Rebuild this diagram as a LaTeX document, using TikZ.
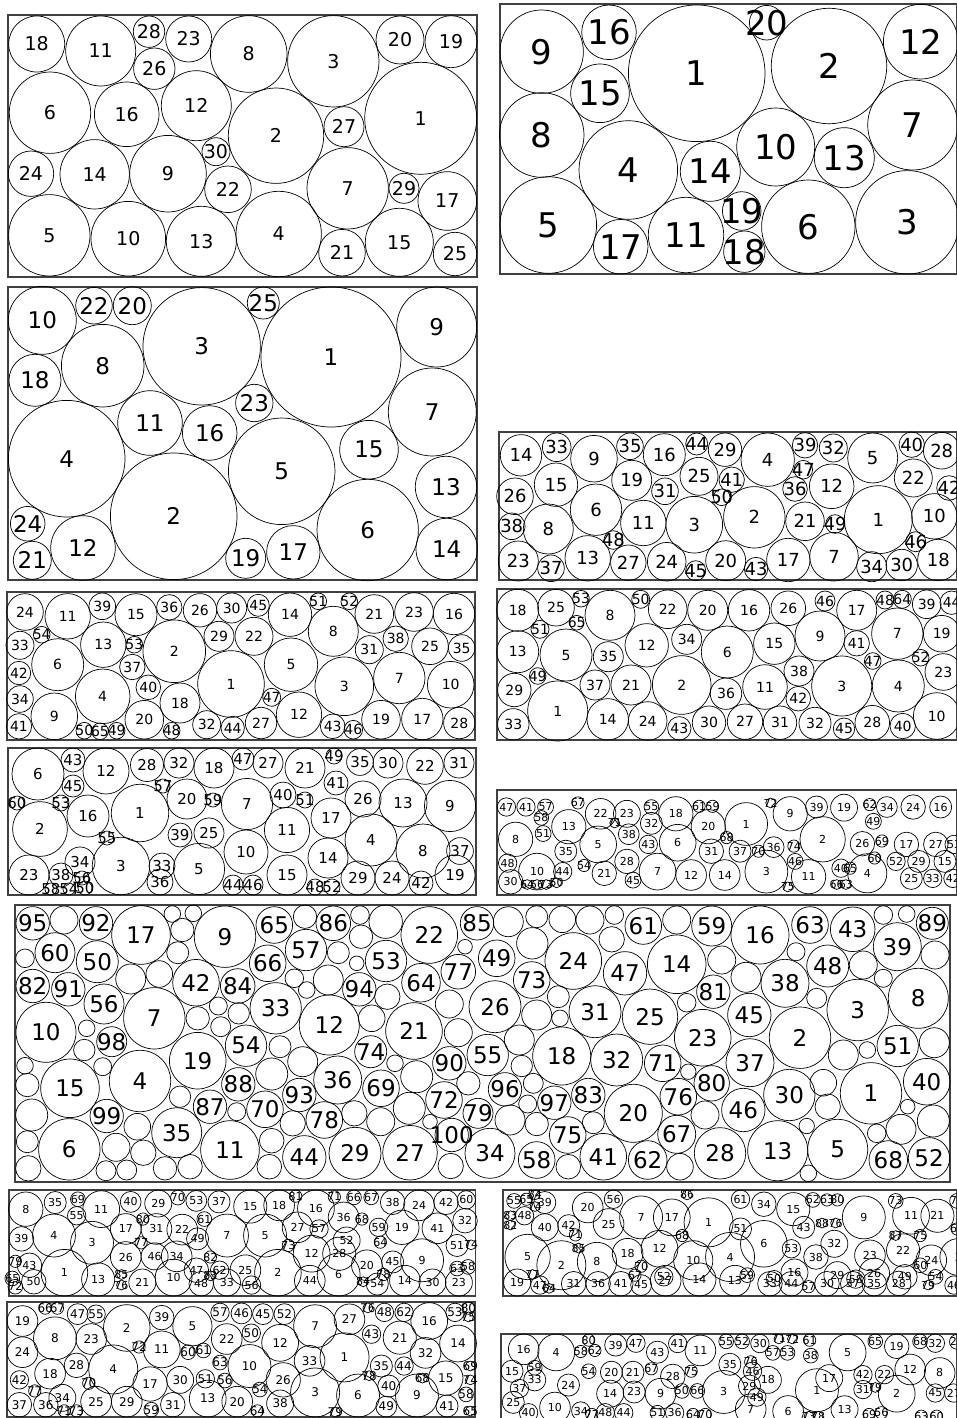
\documentclass[tikz,border=0pt]{standalone}
\usepackage{fontspec}
\setmainfont{DejaVu Sans}
\newcommand\fs[1]{\fontsize{#1}{#1}\selectfont}
\tikzset{
  bola/.style={draw=black, line width=0.7pt},
  marco/.style={draw=black!75, line width=1.2pt},
}
\begin{document}
\begin{tikzpicture}[x=1pt,y=-1pt]
\useasboundingbox (0,0) rectangle (957,1418);
\clip (0,0) rectangle (957,1418);

%Panel 1 arriba izquierda
\draw[marco] (8,15) rectangle (477,277);
\foreach \x/\y/\rad/\n in {36.7/44/28/18, 100.7/51/35/11, 149/31.7/15.7/28, 188.7/39/23/23,
  154.3/68.7/20.7/26, 248.7/54/38.3/8, 333.3/61.3/45.7/3, 400/40/24/20, 451/41.7/26/19,
  50/112.7/40.7/6, 126.7/114.3/32.3/16, 196.3/105.7/35/12, 276/135.7/47.7/2, 344/126.7/20/27,
  420.7/118.3/56/1, 216/151.7/14/30, 31/173.7/22.7/24, 94.7/174.3/34.7/14, 168/173.7/38.3/9,
  228/189.3/23.3/22, 347.7/188.3/40.7/7, 404/188.3/15/29, 447.3/201/29.3/17, 49.3/235.3/40.7/5,
  128.3/238.7/37.3/10, 201.3/241.3/35/13, 278.7/234/42.7/4, 342/252.7/23.3/21,
  399.3/242.3/34/15, 455/254/21.7/25}{
  \draw[bola] (\x,\y) circle[radius=\rad pt];
  \node[font=\fs{19}] (a\n) at (\x,\y) {\n};
}

%Panel 2 arriba derecha
\draw[marco] (500,4) rectangle (956.5,274);
\foreach \x/\y/\rad/\n in {541.7/51.7/41.7/9, 609/32.3/27.3/16, 600/93.3/29.3/15, 696.7/73.3/68.3/1,
  766.7/22.7/17.3/20, 829/66/57.7/2, 920.7/41.7/37.3/12, 541.7/135/42.3/8, 628.3/170/49.3/4,
  710.3/171.3/30/14, 775.7/147/39/10, 844.3/157.7/30/13, 912.7/125/45/7, 548.3/225/48.3/5,
  620.7/246.7/27.3/17, 686/235/37.7/11, 741.7/211/19.3/19, 744.3/251.7/20.7/18,
  808.3/226.7/46.7/6, 907.3/222.3/51.7/3}{
  \draw[bola] (\x,\y) circle[radius=\rad pt];
  \node[font=\fs{34}] (b\n) at (\x,\y) {\n};
}

%Panel 3
\draw[marco] (8,287) rectangle (477,580);
\foreach \x/\y/\rad/\n in {42.3/320.3/34/10, 94/305.7/18.3/22, 132.3/305.7/19/20, 201.7/346.3/58.7/3,
  263.3/303/16/25, 331/357/70/1, 436.7/327/40/9, 35/380.3/26/18, 102.7/365.7/41.3/8,
  254.3/403/18.7/23, 432.3/412/44/7, 150/423/32.3/11, 209.7/433/27.3/16, 66.7/458.7/58.3/4,
  281.7/471.3/53.3/5, 369/449.7/29.3/15, 446/487/30.7/13, 173.7/516.3/63.3/2, 27.7/523.7/17.3/24,
  83/548/32.3/12, 32.3/560.3/19/21, 245.7/558.3/20/19, 293.3/552.3/26.7/17, 367.7/530/50.7/6,
  446.7/549/30.7/14}{
  \draw[bola] (\x,\y) circle[radius=\rad pt];
  \node[font=\fs{23}] (c\n) at (\x,\y) {\n};
}

%Panel 4
\draw[marco] (499,432) rectangle (956.5,580);
\foreach \x/\y/\rad/\n in {521/455.3/20.7/14, 556.7/447.3/14.3/33, 594/458.7/23.3/9, 630/446.3/13.3/35,
  664.3/454.7/21/16, 696.7/444/11/44, 725/449.7/16.7/29, 767.7/459.7/26.7/4, 805/445.3/12.7/39,
  833.3/448/14/32, 872.7/458/25/5, 911.7/444.7/12.7/40, 941.7/450.7/18.3/28, 556/484.7/21.7/15,
  515/496.3/18.3/26, 631.7/480.3/20/19, 665/491.3/13.3/31, 699/476.3/19/25, 731.7/479.7/12.7/41,
  803.3/469.7/9.3/47, 831.7/486.3/22.3/12, 913.3/478/19/22, 949/488/12.3/42, 795/489/12.3/36,
  721.7/497.3/8.3/50, 596/509.7/25.7/6, 754.3/517.3/30.7/2, 878.3/519.7/34/1, 934.3/516.3/22.7/10,
  511.7/526.3/13.3/38, 548.3/529/25/8, 643.3/523/22.7/11, 694.3/524.7/28.3/3, 805/521.3/19.3/21,
  835/524/9.3/49, 613.3/540/9.3/48, 915.7/541.7/10/46, 518.3/561/20/23, 551/568.3/13.3/37,
  587.7/558.3/22.7/13, 628.3/562.7/17.7/27, 666.7/561.7/19.3/24, 695.7/570.7/10/45,
  725.7/560.7/20/20, 756/569/11.7/43, 788.3/560/21.7/17, 834/556.7/24.3/7, 871.7/566.7/15/34,
  901.7/565/15.7/30, 938.3/560/20.7/18}{
  \draw[bola] (\x,\y) circle[radius=\rad pt];
  \node[font=\fs{18}] (d\n) at (\x,\y) {\n};
}

%Panel 5
\draw[marco] (7,592) rectangle (475,740);
\foreach \x/\y/\rad/\n in {25/612/18.3/24, 67.7/616.3/22.7/11, 102.3/606.3/13.3/39, 136/614.7/21/15,
  169.3/607.3/12.7/36, 200/610.3/16.7/26, 231.7/608/15/30, 258.3/605.3/11/45, 290/614.7/21.7/14,
  318.3/601.3/8.3/51, 349.3/601.3/8.3/52, 333.3/631.3/25/8, 374.3/614/19.3/21, 414/612/19.3/23,
  454/614/20.7/16, 41.7/634.7/8.3/54, 20/645.3/14/33, 57.7/664.7/26/6, 103.3/644.7/22.7/13,
  134.3/644.7/8.3/53, 174.3/651.3/31.3/2, 219/636.3/15/29, 254/636.3/19/22, 291/664.7/26.7/5,
  369.3/649.7/14/31, 395.7/638.7/12.7/38, 430/646.3/18.3/25, 461.7/648/13.3/35, 19/673/11.7/42,
  132.3/667/12.7/37, 231/684/33.3/1, 344.3/686.3/29.3/3, 399.3/678/25.7/7, 450.7/684.7/23.3/10,
  20/699/13.3/34, 102.7/696.3/27.3/4, 148.3/687.3/12.3/40, 180/703/20/18, 271.7/697.3/9/47,
  54.3/716.3/23.3/9, 19/726.3/12.7/41, 84.3/730.7/8.3/50, 100/731.3/8.3/65, 116.7/730.7/8.3/49,
  144.3/719.7/19.3/20, 171.7/730.7/8.3/48, 206.7/724.7/14/32, 232.7/728/11.7/44, 261/723/15.7/27,
  299/714.7/22.7/12, 332.7/726.3/12.3/43, 353.3/729.7/9.3/46, 381/719.7/19.3/19,
  422.3/719/20.7/17, 459.3/723/15.7/28}{
  \draw[bola] (\x,\y) circle[radius=\rad pt];
  \node[font=\fs{14}] (e\n) at (\x,\y) {\n};
}

%Panel 6
\draw[marco] (497,589) rectangle (956.5,740);
\foreach \x/\y/\rad/\n in {517.7/610.3/21/18, 556/607.7/18.3/25, 581/598.7/8.3/53, 610/615.3/25/8,
  640.7/599.3/9/50, 667.7/609.3/19.3/22, 707.7/610.3/20/20, 749/610.3/20.7/16, 788.3/608.3/17.3/26,
  825/601/10/46, 856.7/610.3/20/17, 885/600/9/48, 902.3/599.3/9/64, 926.7/604.3/14.3/39,
  951.7/602.7/11.7/44, 576.7/622.7/7.3/65, 540/629.3/9/51, 517.7/651.7/21/13, 566/655/26/5,
  608.3/656.7/15/35, 646.7/645.3/21.7/12, 686.7/639.3/15/34, 727.3/652/26/6, 774.3/643.7/20.7/15,
  820/636/25/9, 856.7/643.3/12.7/41, 897.3/633.7/25.7/7, 941.7/633.7/18.3/19, 872.7/661/8.3/47,
  920.7/657.7/8.3/52, 943.3/672/18.3/23, 537.7/676/8.3/49, 799/671/15/38, 514.3/690/16.7/29,
  595/685/15/37, 631/685/20/21, 681.7/685/29.3/2, 726/693.7/15.7/36, 765/687/22.3/11,
  798.3/698.7/12.3/42, 841.7/686/30/3, 898.3/686/26/4, 557.7/711/30/1, 513.3/724.3/15.7/33,
  607.7/719.3/20.7/14, 647.7/721/19.3/24, 679.3/728.3/11.7/43, 709/722.7/16.7/30,
  745/721.7/17.7/27, 780/722.7/16.7/31, 815/723.3/16/32, 844/728.7/10.7/45, 872.3/722.7/17.3/28,
  902.7/726/12.7/40, 936.7/716/23.3/10}{
  \draw[bola] (\x,\y) circle[radius=\rad pt];
  \node[font=\fs{14}] (f\n) at (\x,\y) {\n};
}

%Panel 7
\draw[marco] (8,748) rectangle (476,895);
\foreach \x/\y/\rad/\n in {38/774/26/6, 73/760/12/43, 106/771/23/12, 147/765/16.5/28, 179/763/15/32,
  214/768/20/18, 243/759/11/47, 268/763/15/27, 305/768/20/21, 334/756/8/49, 360/762/13.4/35,
  388/763/15/30, 425/766/18.3/22, 459/763/15/31, 73/786/11/45, 163/786/7/57, 187/799/20/20,
  213/800/7/59, 247/804/25.6/7, 283/795/13/40, 305/800/8/51, 336/783/12/41, 363/799/18/26,
  403/803/24/13, 450/806/25.6/9, 17/803/7/60, 61/803/8/53, 88/816/21/16, 140/813/28.7/1,
  331/818/20/17, 40/829/27.4/2, 180/835/12/39, 209/833/15/25, 287/830/22.6/11, 371/840/26/4,
  423/851/27/8, 460/851/13.4/37, 107/838/7/55, 80/862/15/34, 162/866/13/33, 246/852/22/10,
  328/858/20/14, 121/866/28.7/3, 199/869/25.6/5, 61/875/12/38, 82/878/7/56, 29/875/20/23,
  160/882/13/36, 287/875/20/15, 233/885/10/44, 253/885/10/46, 315/887/8/48, 332/887/8/52,
  358/878/17/29, 392/878/17/24, 421/883/12/42, 455/875/20/19, 51/889/6/58, 69/889/6/54, 85/888/7/50}{
  \draw[bola] (\x,\y) circle[radius=\rad pt];
  \node[font=\fs{15}] (g\n) at (\x,\y) {\n};
}

%Panel 8
\draw[marco] (497,790) rectangle (956.5,895);
\foreach \zx/\zy/\zr/\n in {828/190/15/47, 860/190/15/41, 892/190/13/57, 945/178/10/67, 982/210/25/22,
  1025/210/22/23, 1065/190/12/55, 1105/210/28/18, 1143/188/10/61, 1165/188/10/59, 1220/240/35/1,
  1260/178/8/72, 1292/210/28/9, 1335/190/18/39, 1380/192/22/19, 1422/183/10/62, 1450/190/17/34,
  1493/190/20/24, 1538/190/18/16, 843/285/28/8, 885/222/12/58, 930/248/28/13, 888/268/13/51,
  978/300/30/5, 1005/237/8/71, 1065/238/18/32, 1028/270/17/38, 1158/248/28/20, 1428/232/13/49,
  1060/300/15/43, 1108/295/30/6, 1188/280/10/68, 1163/320/20/31, 1210/320/18/37, 1240/320/10/70,
  1265/308/17/36, 1298/305/10/74, 1345/285/37/2, 1410/298/20/26, 1442/290/10/69, 1482/300/20/17,
  1530/300/20/27, 1560/300/15/53, 1430/340/10/60, 1390/370/10/65, 830/355/15/48, 878/380/30/10,
  925/320/18/35, 955/362/10/54, 920/380/15/44, 1025/350/20/28, 1300/350/13/46, 1375/370/15/40,
  1465/350/15/52, 1502/350/18/29, 1545/350/18/15, 988/385/20/21, 1035/405/13/45, 1075/380/30/7,
  1130/390/25/12, 1185/390/25/14, 1253/380/35/3, 1288/425/8/75, 1322/395/28/11, 1368/418/8/66,
  1383/418/8/63, 1418/385/32/4, 1490/400/18/25, 1525/400/15/33, 1558/400/15/42, 835/410/20/30,
  862/418/8/64, 878/418/8/56, 893/418/8/73, 910/413/8/50}{
  \pgfmathsetmacro\rr{\zr/1.635}
  \pgfmathsetmacro\px{\zx/1.635}
  \pgfmathsetmacro\py{min(max(790+(\zy-140)*0.34,790+\rr),895-\rr)}
  \draw[bola] (\px,\py) circle[radius=\rr pt];
  \node[font=\fs{11}] (h\n) at (\px,\py) {\n};
}

%Panel 9 grande
\draw[marco] (15,905) rectangle (950,1182);
\foreach \x/\y/\rad in {64/920/14, 172.3/914/8.3, 193.3/913.3/8.3, 182.3/930/11.7, 305/916.7/11.7,
  360/915/9.3, 385.7/921.7/16.7, 25/958.3/9.3, 177.7/952.7/11, 338.3/952.7/11, 361/936.7/11.7,
  356.7/963.3/7.3, 465/946.7/7.3, 130.7/979/15, 159.3/974/13.3, 294.3/978.3/9.3, 328.3/980/15,
  306.7/990/8.3, 387.3/996.7/12.7, 218.3/1006/9, 449.3/1004/14, 86.7/1028.3/8.3, 197.7/1018.3/11.7,
  238.7/1013.3/10.7, 220.7/1026.7/10, 371.7/1018.3/13.3, 458.3/1032.7/14, 280/1046.7/11,
  84.3/1050/10.7, 25/1065.7/8.3, 302.7/1061.7/15, 395/1063.3/8.3, 102.7/1066.7/9, 271.7/1074/16,
  416.7/1076.7/16, 27.3/1085/11.7, 180/1096.7/10.7, 468.3/1083.3/11.7, 236.7/1111.7/9,
  31.7/1115/16, 137.3/1126.7/13.3, 354.3/1113.3/12.7, 380.7/1121.7/14, 409.3/1108.3/16,
  430/1121.7/7.3, 292.7/1123.3/12.7, 27.3/1141.7/11, 116/1147.3/14, 143.3/1152.7/12.7,
  271.7/1140.7/12.3, 28.3/1168.3/12.7, 106/1170.7/10, 126.7/1170/10, 165/1168.3/11.7,
  190/1166.7/12.3, 269.3/1166.7/12.3, 450.7/1166/12.7, 508.3/921.7/15, 536.7/916.7/11,
  562.3/919.3/13.3, 590/920/14, 614.3/915/9.3, 676.7/920/14, 883.3/915/9.3, 906.7/914/8.3,
  532.3/943.3/15.7, 611.7/939.3/12.7, 721.7/960/14, 796/951.7/9, 863.3/965/14, 935/955/14,
  746/977.3/15, 883.3/978.3/9, 558.3/996.7/11, 536.7/1015/15, 560/1018.3/8.3, 686.7/1002.7/9.3,
  816.7/998.3/10, 519.3/1040/15, 843.3/1055/15, 867.3/1050/8.3, 934.3/1042.7/15, 521.7/1066/10.7,
  688.3/1071.7/7.7, 533.3/1083.3/10, 823.3/1082.7/13.3, 527.7/1104/9, 827.7/1106.7/12.7,
  907.7/1106.7/7.3, 510/1120/15, 705/1115/14, 536.7/1124/11.7, 593.3/1122.7/11, 806.7/1126/7.7,
  876.7/1133.3/9.3, 901/1129.3/15, 933.3/1121/16, 568.3/1166.7/12.3, 680/1166.7/13.3,
  808.3/1173.3/8.3}{
  \draw[bola] (\x,\y) circle[radius=\rad pt];
}
\foreach \x/\y/\rad/\n in {32.7/923.3/16.7/95, 96/923.3/16.7/92, 141/935/29.3/17, 225/936.7/30.7/9,
  274.3/925/18.3/65, 333.3/923.3/17.3/86, 429.3/935/28.3/22, 477/923.3/16.7/85, 55/952.7/20/60,
  97.3/961.7/21/50, 306/950/20.7/57, 267.7/963.3/18.3/66, 386/961/20.7/53, 32.7/986/16.7/82,
  68.3/989.3/16.7/91, 196/982.7/23.3/42, 237.7/986/17.3/84, 359.3/989.3/16.7/94, 421/982.7/19.3/64,
  458.3/971.7/17.3/77, 104/1004/20/56, 275.7/1008.3/25.7/33, 154.3/1018.3/30.7/7, 46/1032.3/30/10,
  329.3/1025/30/12, 414/1031/28.3/21, 111.7/1041.7/15/98, 246/1045.7/20.7/54, 370.7/1051.7/16/74,
  197.7/1060.7/28.3/19, 449.3/1063.3/16.7/90, 140/1081/30.7/4, 337.7/1080/24/36,
  238.3/1084.3/16.7/88, 381/1088.3/18.3/69, 70/1088.3/29.3/15, 299.3/1095/16.7/93,
  444/1100/18.3/72, 210/1106.7/16.7/87, 265/1109.3/18.3/70, 106.7/1116/16.7/99,
  324.3/1120/18.3/78, 176.7/1132.7/25/35, 451.7/1135/16.7/100, 69.3/1149.3/30.7/6,
  230/1150/29.3/11, 304.3/1157.3/21.7/44, 355/1153.3/26/29, 410/1152.7/27.3/27,
  496.7/958.3/18.3/49, 643.3/926/18.3/61, 711.7/926/20/59, 760/935/29/16, 810/925/18.3/63,
  852.7/929.3/22.3/43, 932.3/923.3/16/89, 573.3/961/28.3/24, 625/973.3/21.7/47, 676.7/964.3/29.3/14,
  827.7/966/21/48, 897.3/946.7/24/39, 531.7/980/18.3/73, 785/983.3/24/38, 713.3/991.7/16.7/81,
  495/1006.7/26/26, 595/1011.7/26/31, 650/1016.7/27.7/25, 857.7/1010/30.7/3, 918.3/998.3/30/8,
  749.3/1015/21.7/45, 702.7/1037.7/28.3/23, 800/1037.7/30.7/2, 561.7/1056/29/18,
  616.7/1060/26/32, 662.7/1063.3/18.3/71, 897.7/1046/20.7/51, 487.7/1055/20.7/55,
  750/1062.7/24/37, 711.7/1083.3/17.7/80, 505/1089.3/16.7/96, 871/1093.3/30.7/1,
  926.7/1081.7/23.3/40, 789.3/1095/25.7/30, 588.3/1095/16.7/83, 554.3/1102.7/16.7/97,
  678.3/1096.7/18.3/76, 633.3/1113.3/29/20, 743.3/1110/21.7/46, 478/1113.3/15/79,
  567.7/1135/18.3/75, 676.7/1134.3/19/67, 490/1153.3/25/34, 536.7/1160/18.3/58,
  603.3/1156.7/23.3/41, 647.7/1160/19.3/62, 720/1153.3/25.7/28, 777.7/1150.7/30/13,
  837.7/1149.3/30/5, 888.3/1160/19.3/68, 929/1158.3/20.7/52}{
  \draw[bola] (\x,\y) circle[radius=\rad pt];
  \node[font=\fs{23}] (i\n) at (\x,\y) {\n};
}

%Panel 10
\draw[marco] (9,1190) rectangle (475.5,1296);
\foreach \zx/\zy/\zr/\n in {42/70/28/8, 90/50/18/35, 127/40/12/69, 125/90/15/55, 165/70/30/11,
  213/48/17/40, 258/50/22/29, 290/35/12/70, 320/45/17/53, 357/48/18/37, 408/55/27/15, 455/55/25/18,
  482/25/10/81, 515/55/30/16, 545/33/10/71, 577/33/12/66, 605/33/12/67, 640/48/20/38, 683/55/25/24,
  727/48/20/42, 760/42/15/60, 88/150/35/4, 35/160/20/39, 150/172/35/3, 205/130/25/17, 233/100/10/80,
  255/130/25/31, 297/132/25/22, 333/100/12/61, 560/95/25/36, 590/100/10/68, 617/125/15/59,
  485/125/25/27, 520/130/15/57, 565/165/22/52, 655/125/28/19, 713/128/25/41, 758/105/20/32,
  370/150/35/7, 432/150/35/5, 322/160/18/49, 745/180/18/51, 768/178/8/74, 553/205/27/28,
  620/170/10/64, 288/213/25/34, 230/172/10/77, 205/215/25/26, 252/213/22/46, 470/180/10/73,
  508/205/30/12, 598/240/25/20, 640/230/18/45, 688/225/35/9, 25/228/10/79, 48/240/20/43,
  320/255/20/47, 343/215/10/82, 358/255/15/62, 400/255/25/25, 745/250/12/63, 763/245/12/58,
  625/268/10/78, 592/290/8/84, 20/280/12/65, 25/305/12/72, 55/290/20/50, 105/290/38/1,
  160/290/27/13, 198/268/8/85, 198/300/8/76, 232/295/22/21, 283/280/30/10, 328/300/20/48,
  370/295/22/33, 410/300/15/56, 453/285/38/2, 505/295/25/44, 552/290/35/6, 615/297/18/54,
  660/290/25/14, 705/295/22/30, 748/295/22/23, 343/272/8/83}{
  \pgfmathsetmacro\rr{\zr/1.63}
  \pgfmathsetmacro\px{\zx/1.63}
  \pgfmathsetmacro\py{min(max(1190+(\zy-12)*0.33,1190+\rr),1296-\rr)}
  \draw[bola] (\px,\py) circle[radius=\rr pt];
  \node[font=\fs{11}] (j\n) at (\px,\py) {\n};
}

%Panel 11
\draw[marco] (503,1190) rectangle (956.5,1296);
\foreach \zx/\zy/\zr/\n in {838/45/12/55, 858/40/10/65, 872/25/8/84, 872/62/8/74, 888/50/18/39,
  958/65/25/20, 1000/40/15/56, 832/90/8/83, 855/90/15/48, 832/118/8/82, 888/125/22/40, 927/120/18/42,
  938/148/10/71, 992/115/25/25, 1045/95/35/7, 1095/95/30/17, 1120/25/8/86, 1155/110/40/1,
  1207/40/15/61, 1245/55/20/34, 1293/70/27/15, 1325/42/12/62, 1348/42/10/63, 1365/42/10/80,
  1408/95/35/9, 1460/45/12/73, 1485/90/30/11, 1528/90/27/21, 1560/45/12/72, 1207/130/18/51,
  1310/125/18/43, 1340/112/8/88, 1362/112/8/76, 1023/205/25/18, 1075/190/30/12, 1112/150/10/68,
  1245/175/38/6, 1290/190/15/53, 1360/175/22/32, 1418/210/25/23, 1472/195/27/22, 1500/150/10/75,
  1460/150/8/87, 1518/225/25/24, 1562/215/30/3, 1560/130/10/69, 860/215/37/5, 915/240/40/2,
  973/230/32/8, 943/188/8/85, 1130/225/32/10, 1190/215/40/4, 1330/215/20/38, 1295/262/22/16,
  1262/280/13/50, 1045/243/10/70, 1082/275/15/52, 1035/270/10/67, 1218/270/12/59, 1365/270/22/29,
  1395/282/15/58, 1425/265/25/26, 1475/275/20/49, 1500/240/12/60, 1525/275/12/54, 1555/300/15/46,
  1513/300/8/79, 843/295/22/19, 868/268/8/77, 880/300/15/47, 895/310/8/64, 935/300/20/31,
  975/300/20/36, 1012/300/20/41, 1045/300/17/45, 1085/295/25/27, 1140/290/27/14, 1198/290/25/13,
  1255/300/20/33, 1290/300/20/44, 1318/305/10/57, 1348/300/20/30, 1390/300/20/37, 1425/300/20/35,
  1465/295/20/28}{
  \pgfmathsetmacro\rr{\zr/1.63}
  \pgfmathsetmacro\px{\zx/1.63}
  \pgfmathsetmacro\py{min(max(1190+(\zy-12)*0.33,1190+\rr),1296-\rr)}
  \draw[bola] (\px,\py) circle[radius=\rr pt];
  \node[font=\fs{11}] (k\n) at (\px,\py) {\n};
}

%Panel 12
\draw[marco] (7,1302) rectangle (475,1417);
\foreach \zx/\zy/\zr/\n in {35/70/25/19, 72/32/10/66, 92/32/10/67, 125/50/17/47, 155/50/15/55,
  205/90/38/2, 262/60/20/39, 312/85/32/5, 357/45/15/57, 392/48/17/46, 427/50/17/45, 462/50/17/52,
  512/85/35/7, 568/65/25/27, 598/32/8/76, 625/45/15/48, 657/45/15/62, 698/70/30/16, 740/45/15/53,
  762/30/10/80, 762/58/8/75, 88/120/35/8, 147/122/25/23, 35/160/25/24, 225/145/10/72, 262/152/30/11,
  305/160/12/60, 330/155/12/61, 368/122/25/22, 408/105/15/50, 455/133/30/12, 604/108/15/43,
  650/118/27/21, 503/185/25/33, 560/175/40/1, 692/162/25/32, 745/135/30/14, 80/222/25/18,
  123/198/20/28, 183/210/40/4, 405/200/35/10, 357/190/12/63, 620/200/18/35, 657/200/15/44,
  765/200/8/69, 30/240/15/42, 243/252/28/17, 292/240/22/30, 333/237/15/51, 365/242/12/56,
  460/240/28/26, 143/250/10/70, 600/228/8/78, 687/235/8/68, 632/258/18/40, 725/235/28/15,
  765/240/8/74, 55/272/10/77, 100/292/22/34, 422/268/12/54, 30/320/20/37, 73/320/20/36,
  103/340/10/71, 123/340/10/73, 155/318/25/25, 205/315/25/29, 245/330/12/59, 280/318/20/31,
  337/312/30/13, 385/318/25/20, 418/330/10/64, 455/318/22/38, 512/285/40/3, 545/340/8/79,
  582/292/35/6, 628/322/17/49, 678/300/35/9, 758/282/12/58, 727/320/18/41, 765/330/8/65}{
  \pgfmathsetmacro\rr{\zr/1.63}
  \pgfmathsetmacro\px{\zx/1.63+1}
  \pgfmathsetmacro\py{min(max(1302+(\zy-15)*0.346,1302+\rr),1417-\rr)}
  \draw[bola] (\px,\py) circle[radius=\rr pt];
  \node[font=\fs{12}] (l\n) at (\px,\py) {\n};
}

%Panel 13
\draw[marco] (501,1334) rectangle (956.5,1432);
\foreach \zx/\zy/\zr/\n in {852/145/25/16, 905/150/30/4, 958/120/10/80, 945/158/10/58, 968/155/10/62,
  1002/138/18/39, 1035/132/15/47, 1070/160/18/43, 1103/135/15/41, 1140/155/25/11, 1182/128/12/55,
  1208/128/12/52, 1237/135/15/30, 1258/162/12/57, 1282/162/12/53, 1268/118/8/71, 1290/118/8/72,
  1318/118/10/61, 1320/170/12/38, 1380/155/30/5, 1425/125/12/65, 1460/135/20/19, 1498/125/12/68,
  1523/130/15/32, 1558/130/12/26, 833/215/18/15, 870/205/12/59, 870/240/18/33, 958/215/12/54,
  995/218/18/20, 1030/218/18/21, 1060/208/10/67, 1095/230/20/28, 1125/215/10/75, 1188/195/18/35,
  1222/188/10/76, 1225/215/15/46, 1250/240/22/18, 1405/225/15/42, 1440/225/15/22, 1482/210/25/12,
  1530/220/25/8, 1350/235/22/17, 925/255/18/24, 845/265/15/37, 993/280/22/14, 1032/275/18/23,
  1075/280/25/9, 1110/272/12/50, 1135/272/12/66, 1178/275/35/3, 1220/258/18/29, 1232/290/15/49,
  1330/270/35/1, 1405/268/15/31, 1425/262/8/79, 1460/280/30/2, 1523/278/15/45, 1553/278/15/27,
  835/305/18/25, 860/335/15/40, 903/320/25/10, 945/330/15/34, 963/340/10/77, 985/335/15/48,
  1015/335/15/44, 1070/335/12/51, 1098/335/15/36, 1128/340/10/64, 1148/340/10/70, 1222/325/25/7,
  1283/330/25/6, 1317/345/8/73, 1332/345/8/78, 1375/325/22/13, 1415/340/10/69, 1435/335/10/56,
  1500/345/10/63, 1525/345/10/60}{
  \pgfmathsetmacro\rr{\zr/1.63}
  \pgfmathsetmacro\px{\zx/1.63+1}
  \pgfmathsetmacro\py{min(max(1302+(\zy-15)*0.346,1334+\rr),1432-\rr)}
  \draw[bola] (\px,\py) circle[radius=\rr pt];
  \node[font=\fs{11}] (m\n) at (\px,\py) {\n};
}
\end{tikzpicture}
\end{document}
